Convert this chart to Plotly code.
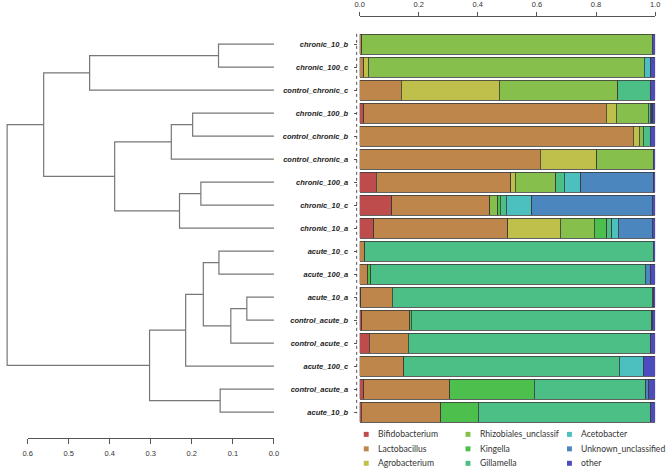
import plotly.graph_objects as go

W = 669
H = 468

# samples, top to bottom (dendrogram leaf order)
SAMPLES = ["chronic_10_b", "chronic_100_c", "control_chronic_c", "chronic_100_b",
           "control_chronic_b", "control_chronic_a", "chronic_100_a", "chronic_10_c",
           "chronic_10_a", "acute_10_c", "acute_100_a", "acute_10_a", "control_acute_b",
           "control_acute_c", "acute_100_c", "control_acute_a", "acute_10_b"]

TAXA = ["Bifidobacterium", "Lactobacillus", "Agrobacterium", "Rhizobiales_unclassif",
        "Kingella", "Gillamella", "Acetobacter", "Unknown_unclassified", "other"]
COLORS = ["#BF4C4C", "#BF864C", "#BFBF4C", "#86BF4C", "#4CBF4C",
          "#4CBF86", "#4CBFBF", "#4C86BF", "#4C4CBF"]

# relative abundance per taxon, one value per sample (same order as SAMPLES)
bifidobacterium = [0, 0, 0, 0.014, 0, 0, 0.056, 0.108, 0.048, 0, 0, 0.003, 0.008, 0.033, 0, 0.014, 0.006]
lactobacillus = [0.008, 0.014, 0.141, 0.820, 0.926, 0.612, 0.456, 0.332, 0.453, 0.017, 0.028, 0.108, 0.161, 0.132, 0.149, 0.291, 0.269]
agrobacterium = [0, 0.016, 0.331, 0.034, 0.020, 0.191, 0.014, 0, 0.178, 0, 0, 0, 0, 0, 0, 0, 0]
rhizobiales = [0.982, 0.933, 0.402, 0.109, 0.014, 0.190, 0.137, 0.028, 0.115, 0, 0, 0, 0, 0, 0, 0, 0]
kingella = [0, 0, 0, 0, 0, 0, 0, 0.008, 0.042, 0, 0.009, 0, 0.005, 0, 0, 0.286, 0.127]
gillamella = [0, 0, 0.109, 0.006, 0.023, 0, 0.030, 0.020, 0.017, 0.976, 0.929, 0.879, 0.814, 0.820, 0.730, 0.377, 0.584]
acetobacter = [0, 0.022, 0, 0.005, 0, 0, 0.056, 0.086, 0.023, 0, 0, 0, 0, 0, 0.080, 0, 0]
unknown = [0, 0, 0, 0.004, 0, 0, 0.246, 0.408, 0.114, 0, 0.019, 0.003, 0.003, 0, 0, 0.010, 0]
other = [0.010, 0.015, 0.017, 0.008, 0.017, 0.007, 0.005, 0.010, 0.010, 0.007, 0.015, 0.007, 0.009, 0.015, 0.041, 0.022, 0.014]
ABUNDANCE = [bifidobacterium, lactobacillus, agrobacterium, rhizobiales, kingella,
             gillamella, acetobacter, unknown, other]

# hierarchical clustering: leaves are 0..16, merge k creates node 17+k
MERGE_A = [11, 17, 15, 9, 0, 20, 6, 3, 22, 23, 24, 25, 27, 21, 30, 31]
MERGE_B = [12, 13, 16, 10, 1, 18, 7, 4, 14, 8, 5, 19, 26, 2, 29, 28]
MERGE_H = [0.066, 0.105, 0.131, 0.134, 0.135, 0.172, 0.178, 0.198, 0.215,
           0.230, 0.250, 0.303, 0.388, 0.449, 0.561, 0.650]

DENDRO_TICKS = [0.6, 0.5, 0.4, 0.3, 0.2, 0.1, 0.0]
BAR_TICKS = [0.0, 0.2, 0.4, 0.6, 0.8, 1.0]

FONT = "Liberation Sans, Arial, sans-serif"
n = len(SAMPLES)
rows = list(range(n))

# y axis shared by both panels: row centres in px 43.3 .. 411.9
y_dom = [(H - 424) / H, (H - 16) / H]
y_rng = [n - 1 + 0.52, -1.185]

fig = go.Figure()

# dendrogram
node_y = {i: float(i) for i in rows}
node_h = {i: 0.0 for i in rows}
dx, dy = [], []
for k, (a, b, h) in enumerate(zip(MERGE_A, MERGE_B, MERGE_H)):
    dx += [node_h[a], h, h, node_h[b], None]
    dy += [node_y[a], node_y[a], node_y[b], node_y[b], None]
    node_y[n + k] = (node_y[a] + node_y[b]) / 2
    node_h[n + k] = h

fig.add_trace(go.Scatter(x=dx, y=dy, mode="lines", line=dict(color="#777777", width=1.2),
                         xaxis="x2", yaxis="y2", showlegend=False, hoverinfo="skip"))

# invisible helper so the dendrogram height axis gets drawn
fig.add_trace(go.Scatter(x=DENDRO_TICKS, y=[0] * len(DENDRO_TICKS), mode="markers",
                         marker=dict(opacity=0), xaxis="x3", yaxis="y3",
                         showlegend=False, hoverinfo="skip"))

# stacked bars
for name, color, vals in zip(TAXA, COLORS, ABUNDANCE):
    fig.add_trace(go.Bar(
        y=rows, x=[v if v > 0 else None for v in vals], name=name, orientation="h",
        marker=dict(color=color, line=dict(color="#3a3a3a", width=0.8)),
        showlegend=False,
    ))

# legend drawn by hand (3 columns, filled column by column)
annotations = []
shapes = []
col_x = [366.7, 470, 573]
row_y = [434.3, 448.8, 463.3]
for i, (name, color) in enumerate(zip(TAXA, COLORS)):
    cx = col_x[i // 3]
    cy = row_y[i % 3]
    shapes.append(dict(type="rect", xref="paper", yref="paper",
                       x0=(cx - 2.5) / W, x1=(cx + 2.5) / W,
                       y0=(H - cy - 2.5) / H, y1=(H - cy + 2.5) / H,
                       fillcolor=color, line=dict(width=0)))
    annotations.append(dict(text=name, xref="paper", yref="paper",
                            x=(cx + 10) / W, y=(H - cy) / H, xanchor="left", yanchor="middle",
                            showarrow=False,
                            font=dict(family="Lato, sans-serif", size=8.6, color="#333333")))

# dotted axis line next to the sample labels
shapes.append(dict(type="line", xref="paper", yref="y", x0=357 / W, x1=357 / W,
                   y0=-0.45, y1=n - 1 + 0.05, line=dict(color="#555555", width=1, dash="dot")))

tick_font = dict(family=FONT, size=7.5, color="#333333")

fig.update_layout(
    width=W, height=H,
    margin=dict(l=0, r=0, t=0, b=0),
    plot_bgcolor="white", paper_bgcolor="white",
    barmode="stack", bargap=0.13,
    font=dict(family=FONT, size=8, color="#333333"),
    xaxis=dict(domain=[360 / W, 660 / W], range=[0, 1], side="top", anchor="y",
               tickvals=BAR_TICKS, tickformat=".1f", ticks="outside", ticklen=3.5,
               tickcolor="#555555", showline=True, linecolor="#555555", linewidth=1,
               showgrid=False, zeroline=False, tickfont=tick_font, ticklabelstandoff=2),
    yaxis=dict(domain=y_dom, range=y_rng, anchor="free", position=357 / W,
               tickvals=rows, ticktext=[f"<b><i>{s}</i></b>" for s in SAMPLES],
               ticks="outside", ticklen=3, tickcolor="#555555", showline=False,
               showgrid=False, zeroline=False, ticklabelstandoff=4,
               tickfont=dict(family=FONT, size=7.5, color="#222222")),
    xaxis2=dict(domain=[0, 280 / W], range=[0.6 + 23 / 416.67, -7 / 416.67],
                anchor="y2", visible=False),
    yaxis2=dict(domain=y_dom, range=y_rng, anchor="x2", visible=False),
    xaxis3=dict(domain=[23 / W, 273 / W], range=[0.6, 0], anchor="y3",
                tickvals=DENDRO_TICKS, tickformat=".1f", ticks="outside", ticklen=5,
                tickcolor="#555555", showline=True, linecolor="#555555", linewidth=1,
                showgrid=False, zeroline=False, tickfont=tick_font, ticklabelstandoff=3),
    yaxis3=dict(domain=[(H - 438) / H, (H - 434) / H], anchor="x3", visible=False),
    shapes=shapes,
    annotations=annotations,
)

# page body has a default 8px margin; drop it so the figure sits at the window corner
fig.write_html("out.html", config={"displayModeBar": False},
               post_script="document.body.style.margin='0px';")
